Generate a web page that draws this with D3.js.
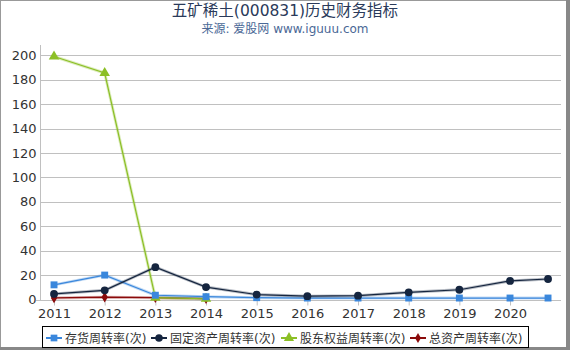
<!DOCTYPE html>
<html>
<head>
<meta charset="utf-8">
<script src="https://cdn.jsdelivr.net/npm/d3@7"></script>
<style>
body { margin: 0; background: #fff; }
text { font-family: "DejaVu Sans", "Noto Sans CJK SC", sans-serif; }
</style>
</head>
<body>
<script>
// 年份 (最后一个点是 2021 三季度)
var years = [2011, 2012, 2013, 2014, 2015, 2016, 2017, 2018, 2019, 2020, 2020.75];
var tickYears = [2011, 2012, 2013, 2014, 2015, 2016, 2017, 2018, 2019, 2020];
var yTicks = [0, 20, 40, 60, 80, 100, 120, 140, 160, 180, 200];

var inventory = [12, 20, 3.5, 2.3, 1.5, 1.2, 1.2, 1.2, 1.2, 1.2, 1.2];
var fixedAsset = [4.6, 7.5, 26.5, 10.2, 4, 2.7, 3.1, 5.9, 8, 15.2, 16.8];
var equity = [199, 185.5, 1.5, 0.6, null, null, null, null, null, null, null];
var totalAsset = [1.3, 1.9, 1.5, 0.7, null, null, null, null, null, null, null];

var seriesNames = ["存货周转率(次)", "固定资产周转率(次)", "股东权益周转率(次)", "总资产周转率(次)"];
var seriesColors = ["#3a87dc", "#15253f", "#8cbf26", "#8b0a0a"];
var seriesShapes = [d3.symbolSquare, d3.symbolCircle, d3.symbolTriangle, d3.symbolDiamond];
var seriesValues = [inventory, fixedAsset, equity, totalAsset];
var drawOrder = [3, 2, 0, 1];

var width = 570, height = 350;
var plotLeft = 41, plotRight = 561, plotTop = 55.3, plotBottom = 299.5;

var svg = d3.select("body").append("svg")
    .attr("width", width)
    .attr("height", height);

// 边框
svg.append("rect").attr("x", 0.5).attr("y", 0.5).attr("width", width - 1).attr("height", height - 1)
    .attr("fill", "none").attr("stroke", "#999");
svg.append("rect").attr("x", 566).attr("y", 0).attr("width", 4).attr("height", height).attr("fill", "#888");
svg.append("rect").attr("x", 0).attr("y", 347).attr("width", width).attr("height", 3).attr("fill", "#888");

var x = d3.scaleLinear().domain([2010.743, 2021.006]).range([plotLeft, plotRight]);
var y = d3.scaleLinear().domain([0, 200]).range([plotBottom, plotTop]);

svg.append("text").attr("x", 285).attr("y", 16).attr("text-anchor", "middle")
    .attr("font-size", 15.5).attr("fill", "#2a3a5a").text("五矿稀土(000831)历史财务指标");
svg.append("text").attr("x", 285).attr("y", 33).attr("text-anchor", "middle")
    .attr("font-size", 12).attr("fill", "#4a6896").text("来源: 爱股网 www.iguuu.com");

// 网格线
svg.append("g").selectAll("line").data(yTicks.slice(1)).enter().append("line")
    .attr("x1", plotLeft).attr("x2", plotRight)
    .attr("y1", function (d) { return Math.round(y(d)) + 0.5; })
    .attr("y2", function (d) { return Math.round(y(d)) + 0.5; })
    .attr("stroke", "#c0c0c0");

var yAxis = d3.axisLeft(y).tickValues(yTicks).tickSize(0).tickPadding(4);
var gy = svg.append("g").attr("transform", "translate(" + (plotLeft - 0.5) + ",0)").call(yAxis);
gy.select(".domain").attr("stroke", "#c0c0c0").attr("d", "M0,45V" + (plotBottom + 1));
gy.selectAll("text").attr("font-size", 13).attr("fill", "#333").attr("font-family", "DejaVu Sans");

var xAxis = d3.axisBottom(x).tickValues(tickYears).tickFormat(d3.format("d")).tickSize(5).tickPadding(3);
var gx = svg.append("g").attr("transform", "translate(0," + (Math.round(plotBottom) + 0.5) + ")").call(xAxis);
gx.select(".domain").attr("stroke", "#c0c0c0").attr("d", "M" + (plotLeft - 5) + ",0H" + plotRight);
gx.selectAll(".tick line").attr("stroke", "#c0c0c0");
gx.selectAll("text").attr("font-size", 13).attr("fill", "#333").attr("font-family", "DejaVu Sans");

var line = d3.line()
    .defined(function (d) { return d[1] != null; })
    .x(function (d) { return x(d[0]); })
    .y(function (d) { return y(d[1]); });

drawOrder.forEach(function (i) {
    var vals = seriesValues[i];
    var pts = years.map(function (yr, j) { return [yr, vals[j]]; });
    var g = svg.append("g");
    g.append("path").datum(pts).attr("d", line)
        .attr("fill", "none").attr("stroke", seriesColors[i]).attr("stroke-opacity", 0.3).attr("stroke-width", 3);
    g.append("path").datum(pts).attr("d", line)
        .attr("fill", "none").attr("stroke", seriesColors[i]).attr("stroke-width", 1.2);
    g.selectAll("path.pt").data(pts.filter(function (d) { return d[1] != null; })).enter().append("path")
        .attr("class", "pt")
        .attr("transform", function (d) { return "translate(" + x(d[0]) + "," + y(d[1]) + ")"; })
        .attr("d", d3.symbol().type(seriesShapes[i]).size(i == 3 ? 34 : 48))
        .attr("fill", seriesColors[i]);
});

// 图例
var legend = svg.append("g");
legend.append("rect").attr("x", 42.5).attr("y", 326.5).attr("width", 486).attr("height", 21)
    .attr("fill", "#fff").attr("stroke", "#000");
var legendX = [46, 151, 281, 410];
seriesNames.forEach(function (name, i) {
    var lg = legend.append("g").attr("transform", "translate(" + legendX[i] + ",338)");
    lg.append("line").attr("x1", 0).attr("x2", 16).attr("stroke", seriesColors[i]).attr("stroke-width", 2);
    lg.append("path").attr("transform", "translate(8,0)")
        .attr("d", d3.symbol().type(seriesShapes[i]).size(i == 3 ? 30 : 45)).attr("fill", seriesColors[i]);
    lg.append("text").attr("x", 19).attr("y", 4.5).attr("font-size", 12).attr("fill", "#333").text(name);
});
</script>
</body>
</html>
